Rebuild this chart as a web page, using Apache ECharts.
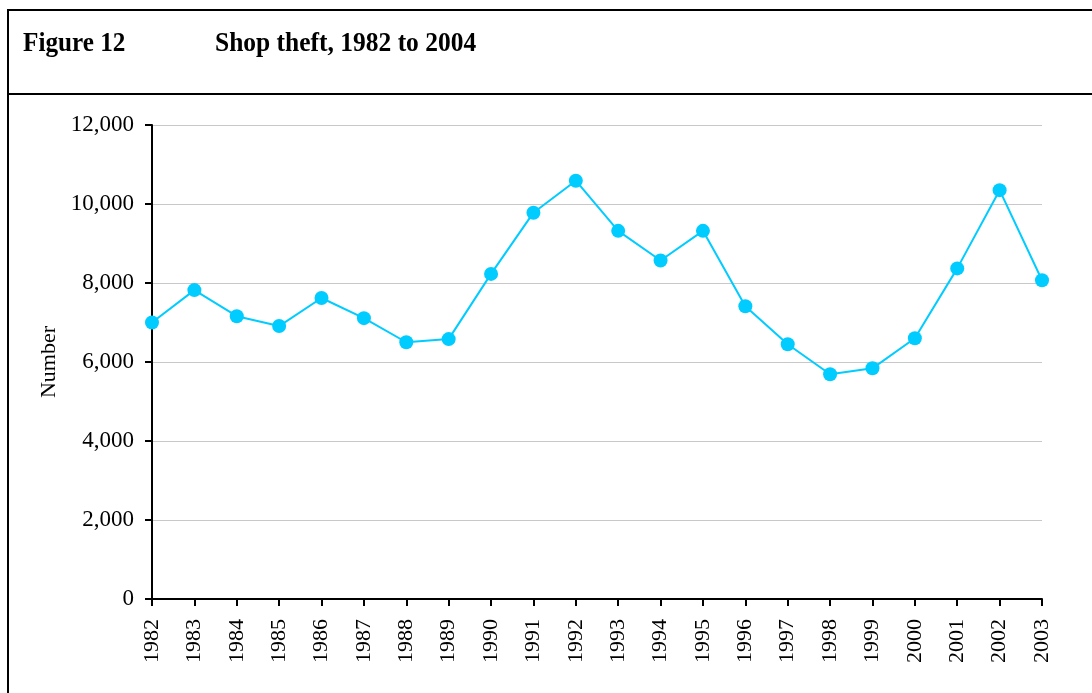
<!DOCTYPE html>
<html>
<head>
<meta charset="utf-8">
<title>Shop theft, 1982 to 2004</title>
<script src="https://cdn.jsdelivr.net/npm/echarts@6/dist/echarts.min.js"></script>
<style>
	html,body{margin:0;padding:0;background:#fff;}
	#chart{width:1092px;height:693px;}
</style>
</head>
<body>
<div id="chart"></div>
<script>
const years=['1982','1983','1984','1985','1986','1987','1988','1989','1990','1991','1992',
	'1993','1994','1995','1996','1997','1998','1999','2000','2001','2002','2003'];
const shopTheft=[7000,7820,7160,6910,7620,7110,6500,6580,8230,9780,10590,
	9320,8570,9320,7410,6450,5690,5840,6600,8370,10350,8070];
const figureLabel='Figure 12';
const figureTitle='Shop theft, 1982 to 2004';
const yAxisName='Number';

const serif='"Liberation Serif","Times New Roman",serif';
let chart=echarts.init(document.getElementById('chart'));
let option={
	animation:false,
	backgroundColor:'#fff',
	grid:{left:152,right:50,top:125,bottom:94,containLabel:false},
	graphic:[
		{type:'rect',shape:{x:8,y:10,width:1200,height:800},style:{fill:'none',stroke:'#000',lineWidth:2}},
		{type:'line',shape:{x1:8,y1:94,x2:1092,y2:94},style:{stroke:'#000',lineWidth:2}},
		// title texts are a condensed bold serif in the original, so squeeze them a bit
		{type:'text',x:23,y:44,scaleX:0.9,style:{text:figureLabel,x:0,y:0,font:'bold 28px '+serif,fill:'#000',verticalAlign:'middle'}},
		{type:'text',x:215,y:44,scaleX:0.91,style:{text:figureTitle,x:0,y:0,font:'bold 28px '+serif,fill:'#000',verticalAlign:'middle'}}
	],
	xAxis:{
		type:'category',
		data:years,
		boundaryGap:false,
		axisLine:{lineStyle:{color:'#000',width:2}},
		axisTick:{show:true,length:7,lineStyle:{color:'#000',width:2}},
		axisLabel:{rotate:90,margin:20,color:'#000',fontFamily:serif,fontSize:22,interval:0},
		splitLine:{show:false}
	},
	yAxis:{
		type:'value',
		min:0,
		max:12000,
		interval:2000,
		name:yAxisName,
		nameLocation:'middle',
		nameGap:90,
		nameTextStyle:{color:'#000',fontFamily:serif,fontSize:22},
		axisLine:{show:true,lineStyle:{color:'#000',width:2}},
		axisTick:{show:true,length:7,lineStyle:{color:'#000',width:2}},
		axisLabel:{margin:18,color:'#000',fontFamily:serif,fontSize:23,
			formatter:(v)=>v.toLocaleString('en-US')},
		splitLine:{show:true,lineStyle:{color:'#c8c8c8',width:1}}
	},
	series:[
		{
			name:'Shop theft',
			type:'line',
			data:shopTheft,
			symbol:'circle',
			symbolSize:14,
			lineStyle:{color:'#00ccff',width:2},
			itemStyle:{color:'#00ccff'}
		}
	]
};
chart.setOption(option);
</script>
</body>
</html>
